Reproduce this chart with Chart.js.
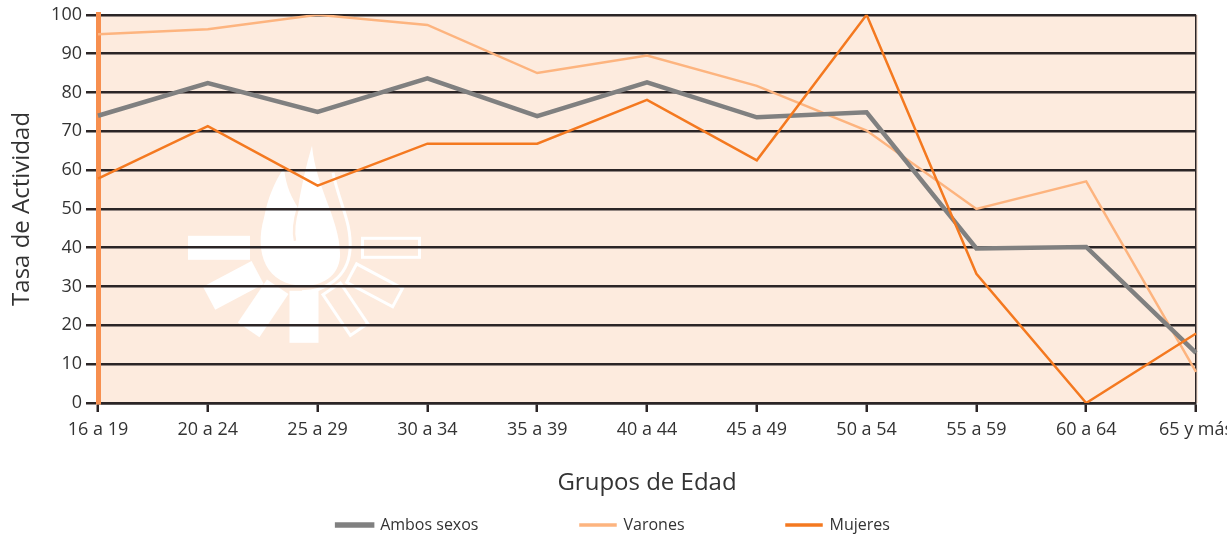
<!DOCTYPE html>
<html lang="es">
<head>
<meta charset="utf-8">
<title>Tasa de Actividad por Grupos de Edad</title>
<script src="https://cdn.jsdelivr.net/npm/chart.js@4/dist/chart.umd.min.js"></script>
<style>
  html, body { margin: 0; padding: 0; background: #fff; }
  #wrap { width: 1227px; height: 535px; position: relative; }
</style>
</head>
<body>
<div id="wrap"><canvas id="activityChart"></canvas></div>
<script>
// values
const ageGroups = ['16 a 19', '20 a 24', '25 a 29', '30 a 34', '35 a 39', '40 a 44',
    '45 a 49', '50 a 54', '55 a 59', '60 a 64', '65 y más'];
const ambosSexos = [74, 82.4, 75, 83.6, 73.9, 82.6, 73.6, 74.9, 39.8, 40.2, 12.9];
const varones = [95, 96.3, 100, 97.4, 85, 89.5, 81.7, 70.2, 50, 57.1, 8];
const mujeres = [57.8, 71.3, 56, 66.8, 66.8, 78.1, 62.5, 100, 33.3, 0, 17.9];
const yTicks = [0, 10, 20, 30, 40, 50, 60, 70, 80, 90, 100];

const GRID = '#2b2526';
const PLOT_BG = '#fdebde';
const LEGEND_TEXT_Y = 525;

// white campfire watermark behind the grid
const LOGO_RAYS = [
    { a: 180, d: 85, l: 62, w: 24, fill: true },
    { a: 152, d: 80, l: 55, w: 26, fill: true },
    { a: 124, d: 73, l: 52, w: 26, fill: true },
    { a: 90, d: 69, l: 52, w: 29, fill: true },
    { a: 56, d: 74, l: 52, w: 24, fill: false },
    { a: 28, d: 80, l: 55, w: 24, fill: false },
    { a: 0, d: 87, l: 60, w: 22, fill: false }
];

function drawLogo(ctx, ox, oy) {
    ctx.save();
    ctx.translate(ox, oy);
    ctx.fillStyle = '#fff';
    ctx.strokeStyle = '#fff';
    ctx.lineWidth = 3;
    LOGO_RAYS.forEach(r => {
        ctx.save();
        ctx.rotate(r.a * Math.PI / 180);
        if (r.fill) {
            ctx.fillRect(r.d - r.l / 2, -r.w / 2, r.l, r.w);
        } else {
            ctx.strokeRect(r.d - r.l / 2 + 1.5, -r.w / 2 + 1.5, r.l - 3, r.w - 3);
        }
        ctx.restore();
    });

    // flame body
    ctx.beginPath();
    ctx.moveTo(0, 38);
    ctx.bezierCurveTo(-38, 38, -50, 5, -40, -30);
    ctx.bezierCurveTo(-36, -50, -30, -65, -20, -80);
    ctx.bezierCurveTo(-18, -60, -12, -50, -6, -40);
    ctx.bezierCurveTo(-2, -65, 3, -85, 8, -102);
    ctx.bezierCurveTo(12, -60, 35, -30, 36, 5);
    ctx.bezierCurveTo(37, 25, 22, 38, 0, 38);
    ctx.closePath();
    ctx.fill();

    // outer flame outline
    ctx.beginPath();
    ctx.moveTo(29, -75);
    ctx.bezierCurveTo(35, -45, 48, -25, 46, 2);
    ctx.bezierCurveTo(44, 30, 20, 44, -2, 44);
    ctx.stroke();

    // inner tongue edge
    ctx.strokeStyle = PLOT_BG;
    ctx.lineWidth = 2.5;
    ctx.beginPath();
    ctx.moveTo(-6, -40);
    ctx.quadraticCurveTo(-12, -20, -9, -7);
    ctx.stroke();
    ctx.restore();
}

const plotBackground = {
    id: 'plotBackground',
    beforeDraw(chart) {
        const { ctx, chartArea } = chart;
        if (!chartArea) return;
        ctx.save();
        ctx.fillStyle = PLOT_BG;
        ctx.fillRect(chartArea.left, chartArea.top, chartArea.right - chartArea.left + 2, chartArea.bottom - chartArea.top);
        ctx.restore();
        drawLogo(ctx, chartArea.left + 206, chartArea.top + 233);
    }
};

// the legend uses its label padding both across and down; keep the wide
// spacing across but lift the row back up to the bottom of the canvas
const legendLift = {
    id: 'legendLift',
    afterInit(chart) {
        const lg = chart.legend;
        if (!lg) return;
        const draw = lg.draw;
        lg.draw = function () {
            const top = this.top;
            const labels = this.options.labels;
            this.top = LEGEND_TEXT_Y - labels.padding - labels.font.size / 2;
            draw.call(this);
            this.top = top;
        };
    }
};

Chart.defaults.font.family = "'Open Sans', 'Noto Sans', sans-serif";
Chart.defaults.color = '#333';

const ctx = document.getElementById('activityChart');

new Chart(ctx, {
    type: 'line',
    data: {
        labels: ageGroups,
        datasets: [{
            label: 'Ambos sexos',
            data: ambosSexos,
            borderColor: '#808080',
            backgroundColor: '#808080',
            borderWidth: 4.5,
            order: 2
        },
        {
            label: 'Varones',
            data: varones,
            borderColor: '#fdb47f',
            backgroundColor: '#fdb47f',
            borderWidth: 2.5,
            order: 3
        },
        {
            label: 'Mujeres',
            data: mujeres,
            borderColor: '#f47920',
            backgroundColor: '#f47920',
            borderWidth: 2.5,
            order: 1
        }]
    },
    options: {
        responsive: true,
        maintainAspectRatio: false,
        animation: false,
        elements: {
            point: { radius: 0, hoverRadius: 0 },
            line: { tension: 0, fill: false }
        },
        layout: {
            padding: { top: 14, right: 0, bottom: 0, left: 0 }
        },
        plugins: {
            tooltip: { enabled: false },
            legend: {
                position: 'bottom',
                maxHeight: 30,
                labels: {
                    boxWidth: 35,
                    boxHeight: 1,
                    padding: 102,
                    color: '#333',
                    font: { size: 16 },
                    sort: (a, b) => a.datasetIndex - b.datasetIndex
                }
            }
        },
        scales: {
            x: {
                type: 'category',
                offset: false,
                afterFit: (scale) => {
                    scale.height = 102;
                    scale.paddingLeft = 0;
                    scale.paddingRight = 31;
                },
                title: {
                    display: true,
                    text: 'Grupos de Edad',
                    color: '#333',
                    font: { size: 24 },
                    padding: { top: 0, bottom: 7 }
                },
                ticks: {
                    color: '#333',
                    font: { size: 18 },
                    padding: 7,
                    autoSkip: false,
                    maxRotation: 0
                },
                grid: {
                    drawOnChartArea: true,
                    color: (c) => c.index === ageGroups.length - 1 ? GRID : 'rgba(0,0,0,0)',
                    lineWidth: 1.5,
                    tickColor: GRID,
                    tickWidth: 2.5,
                    tickLength: 9
                },
                border: { color: GRID, width: 2.5 }
            },
            y: {
                min: 0,
                max: 100,
                afterFit: (scale) => {
                    scale.width = 98;
                },
                afterBuildTicks: (scale) => {
                    scale.ticks = yTicks.map(v => ({ value: v }));
                },
                title: {
                    display: true,
                    text: 'Tasa de Actividad',
                    color: '#333',
                    font: { size: 24 },
                    padding: { top: 8, bottom: 0 }
                },
                ticks: {
                    color: '#333',
                    font: { size: 18 },
                    padding: 4
                },
                grid: {
                    color: GRID,
                    lineWidth: 2.5,
                    tickLength: 12
                },
                border: { color: '#f78f4f', width: 5 }
            }
        }
    },
    plugins: [plotBackground, legendLift]
});
</script>
</body>
</html>
